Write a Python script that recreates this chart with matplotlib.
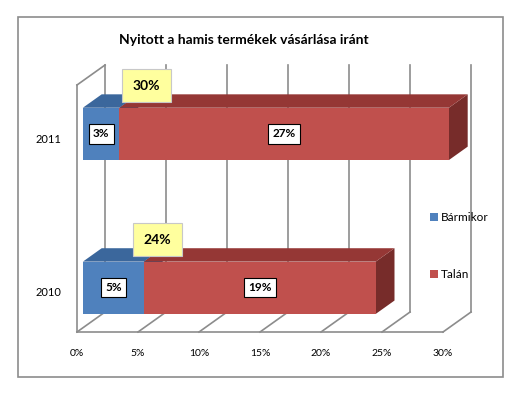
from matplotlib import pyplot as plt
from matplotlib.patches import Polygon, Rectangle, Patch
import numpy as np

plt.rcParams['font.family'] = ['Lato', 'DejaVu Sans']

years = ['2010', '2011']
barmikor = [5, 3]
talan = [19, 27]
osszes = [24, 30]
series_names = ['Bármikor', 'Talán']

# szinek (elulso lap, teteje, oldala)
front_cols = ['#4F81BD', '#C0504D']
top_cols = ['#3B679C', '#953735']
side_cols = ['#2F5380', '#772C2A']

# melyseg a perspektivahoz
DX, DY = 2.3, 0.13
d0, d1 = 0.21, 0.88
bar_h = 0.34
ymin, ymax = -0.26, 1.345


def P(x, y, d):
    return (x + d * DX, y + d * DY)


fig = plt.figure(figsize=(5.24, 3.95), dpi=100)
ax = fig.add_axes([77 / 524, 1 - 332 / 395, 366 / 524, 247 / 395])
ax.set_xlim(0, 30)
ax.set_ylim(ymin, ymax)
for s in ax.spines.values():
    s.set_visible(False)

grid_col = '#8C8C8C'
xt = np.arange(0, 35, 5)

# hatso fal racsvonalai
for v in xt:
    a = P(v, ymin, 1)
    b = P(v, ymax, 1)
    ax.plot([a[0], b[0]], [a[1], b[1]], color=grid_col, lw=1.2, clip_on=False, zorder=1)
    # padlo atloi
    c = P(v, ymin, 0)
    ax.plot([c[0], a[0]], [c[1], a[1]], color=grid_col, lw=1.2, clip_on=False, zorder=1)
# padlo eleje
ax.plot([0, 30], [ymin, ymin], color=grid_col, lw=1.2, clip_on=False, zorder=1)
# bal fal
ax.plot([0, 0], [ymin, ymax], color=grid_col, lw=1.2, clip_on=False, zorder=1)
t = P(0, ymax, 1)
ax.plot([0, t[0]], [ymax, t[1]], color=grid_col, lw=1.2, clip_on=False, zorder=1)

# oszlopok
for i, yc in enumerate(range(len(years))):
    yb, yt = yc - bar_h / 2, yc + bar_h / 2
    left = 0
    for k, vals in enumerate([barmikor, talan]):
        right = left + vals[i]
        side = [P(right, yb, d0), P(right, yt, d0), P(right, yt, d1), P(right, yb, d1)]
        top = [P(left, yt, d0), P(right, yt, d0), P(right, yt, d1), P(left, yt, d1)]
        front = [P(left, yb, d0), P(right, yb, d0), P(right, yt, d0), P(left, yt, d0)]
        for poly, col in [(side, side_cols[k]), (top, top_cols[k]), (front, front_cols[k])]:
            ax.add_patch(Polygon(poly, closed=True, facecolor=col, edgecolor='none',
                                 clip_on=False, zorder=3))
        cx, cy = P((left + right) / 2, yc, d0)
        ax.text(cx, cy, f'{vals[i]}%', ha='center', va='center', fontsize=8.5,
                fontweight='bold', zorder=5,
                bbox=dict(boxstyle='square,pad=0.35', fc='white', ec='black', lw=0.8))
        left = right

# osszesen cimkek (sargak)
total_x = [6.6, 5.7]
for i, v in enumerate(osszes):
    ax.text(total_x[i], i + 0.34, f'{v}%', ha='center', va='center', fontsize=10,
            fontweight='bold', zorder=6,
            bbox=dict(boxstyle='square,pad=0.75', fc='#FFFF9E', ec='#C8C8C8', lw=0.8))

ax.set_xticks(xt)
ax.set_xticklabels([f'{v}%' for v in xt], fontsize=7.5)
ax.set_yticks(range(len(years)))
ax.set_yticklabels(years, fontsize=8)
ax.tick_params(length=0)
ax.tick_params(axis='x', pad=12)
ax.tick_params(axis='y', pad=11)

handles = [Patch(facecolor=c, edgecolor='none') for c in front_cols]
fig.legend(handles, series_names, loc='center left', bbox_to_anchor=(419 / 524, 1 - 246 / 395),
           frameon=False, fontsize=8.5, handlelength=0.7, handleheight=0.7,
           handletextpad=0.25, labelspacing=3.9)

fig.text(244 / 524, 1 - 40 / 395, 'Nyitott a hamis termékek vásárlása iránt',
         ha='center', va='center', fontsize=10, fontweight='bold')

fig.patches.append(Rectangle((18 / 524, 1 - 377 / 395), 485 / 524, 360 / 395,
                             transform=fig.transFigure, fill=False, ec='#8C8C8C', lw=1.2))

plt.savefig('out.png', dpi=100)
